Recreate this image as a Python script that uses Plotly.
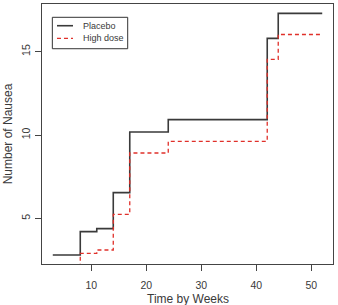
import plotly.graph_objects as go

weeks = [3, 8, 11, 14, 17, 24, 42, 44, 52]
placebo = [2.8, 4.2, 4.38, 6.54, 10.18, 10.92, 15.8, 17.3, 17.3]
high_dose = [2.0, 2.9, 3.1, 5.24, 8.92, 9.62, 14.54, 16.03, 16.03]
x_ticks = [10, 20, 30, 40, 50]
y_ticks = [5, 10, 15]

FONT = "Liberation Sans, Arial, sans-serif"

fig = go.Figure()
fig.add_trace(go.Scatter(x=weeks, y=placebo, mode="lines", line_shape="hv",
                         line=dict(color="#3a3a3a", width=1.6), name="Placebo",
                         showlegend=False))
fig.add_trace(go.Scatter(x=weeks, y=high_dose, mode="lines", line_shape="hv",
                         line=dict(color="#e0302a", width=1.3, dash="4px,3px"),
                         name="High dose", showlegend=False))

axis_common = dict(showline=True, mirror=True, linecolor="#444444", linewidth=1,
                   ticks="outside", ticklen=6, tickcolor="#444444", showgrid=False,
                   zeroline=False, tickfont=dict(family=FONT, size=10.5, color="#3a3a3a"))

fig.update_xaxes(range=[1.04, 53.96], tickvals=x_ticks, ticklabelstandoff=5,
                 **axis_common)
fig.update_yaxes(range=[2.26, 17.86], tickvals=y_ticks, tickangle=-90, ticklabelstandoff=1,
                 title=dict(text="Number of Nausea", font=dict(family=FONT, size=12, color="#3a3a3a"),
                            standoff=4),
                 **axis_common)

# x-axis title placed as annotation (R-style spacing)
fig.add_annotation(xref="paper", yref="paper", x=0.5, y=-0.133, text="Time by Weeks",
                   showarrow=False, xanchor="center", yanchor="middle",
                   font=dict(family=FONT, size=12, color="#3a3a3a"))

# legend (drawn manually to match R-style compact legend)
fig.add_shape(type="rect", xref="paper", yref="paper", x0=0.0355, x1=0.2945, y0=0.828, y1=0.9488,
              line=dict(color="#333333", width=1), fillcolor="white")
fig.add_shape(type="line", xref="paper", yref="paper", x0=0.0515, x1=0.1065, y0=0.9165, y1=0.9165,
              line=dict(color="#3a3a3a", width=1.6))
fig.add_shape(type="line", xref="paper", yref="paper", x0=0.0515, x1=0.1065, y0=0.868, y1=0.868,
              line=dict(color="#e0302a", width=1.3, dash="4px,3px"))
for label, yy in [("Placebo", 0.9165), ("High dose", 0.868)]:
    fig.add_annotation(xref="paper", yref="paper", x=0.134, y=yy, text=label, showarrow=False,
                       xanchor="left", yanchor="middle",
                       font=dict(family=FONT, size=9, color="#3a3a3a"))

fig.update_layout(width=338, height=305, margin=dict(l=42, r=5, t=4, b=41),
                  plot_bgcolor="white", paper_bgcolor="white")

fig.write_html("out.html")
